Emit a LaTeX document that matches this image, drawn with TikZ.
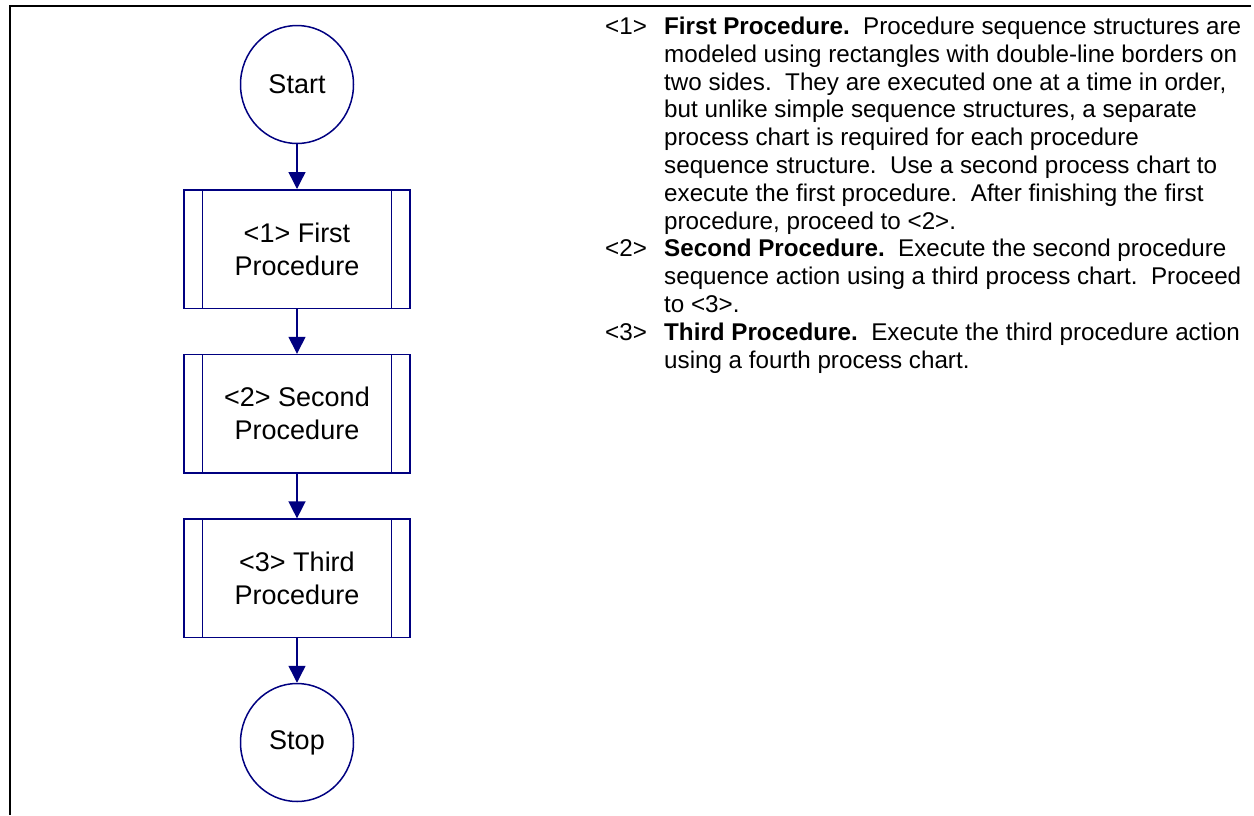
\documentclass[tikz,border=0pt]{standalone}
\usepackage{fontspec}
\setmainfont{Liberation Sans}
\usepackage{tikz}
\usetikzlibrary{shapes.geometric, arrows.meta, positioning}
\definecolor{chartcolor}{HTML}{000080}

\begin{document}
\begin{tikzpicture}[x=1pt, y=-1pt,
    terminal/.style={ellipse, draw=chartcolor, line width=1.5pt, minimum width=113pt, minimum height=118pt, inner sep=0pt, align=center, font=\fontsize{27}{33}\selectfont},
    procedure/.style={rectangle, draw=chartcolor, line width=1.5pt, minimum width=226pt, minimum height=118.5pt, inner sep=0pt, align=center, font=\fontsize{27}{33}\selectfont,
        path picture={
            \draw[chartcolor, line width=1.5pt] ([xshift=18.7pt]path picture bounding box.north west) -- ([xshift=18.7pt]path picture bounding box.south west);
            \draw[chartcolor, line width=1.5pt] ([xshift=-18.7pt]path picture bounding box.north east) -- ([xshift=-18.7pt]path picture bounding box.south east);}},
    arrow/.style={-{Triangle[length=17pt, width=17pt]}, chartcolor, line width=1.4pt}
]
\useasboundingbox (0,0) rectangle (1254,815);

% Frame
\draw[line width=2pt] (1251,5.7) -- (10,5.7) -- (10,815);

% Start and stop
\node[terminal] (start) at (297,84.5) {Start};
\node[terminal] (stop) at (297,742.5) {Stop};

% Three procedures
\node[procedure] (proc1) at (297,249) {<1> First\\Procedure};
\node[procedure] (proc2) at (297,413.8) {<2> Second\\Procedure};
\node[procedure] (proc3) at (297,578.4) {<3> Third\\Procedure};

% Connections
\draw[arrow] (start.south) -- (proc1.north);
\draw[arrow] (proc1.south) -- (proc2.north);
\draw[arrow] (proc2.south) -- (proc3.north);
\draw[arrow] (proc3.south) -- (stop.north);

% Notes
\node[anchor=north west, inner sep=0pt, font=\fontsize{24.2}{27.8}\selectfont] (notes) at (605,14.8) {%
\begin{tabular}{@{}p{59pt}@{}l@{}}
<1> & \textbf{First Procedure.}\ \ Procedure sequence structures are\\
    & modeled using rectangles with double-line borders on\\
    & two sides.\ \ They are executed one at a time in order,\\
    & but unlike simple sequence structures, a separate\\
    & process chart is required for each procedure\\
    & sequence structure.\ \ Use a second process chart to\\
    & execute the first procedure.\ \ After finishing the first\\
    & procedure, proceed to <2>.\\
<2> & \textbf{Second Procedure.}\ \ Execute the second procedure\\
    & sequence action using a third process chart.\ \ Proceed\\
    & to <3>.\\
<3> & \textbf{Third Procedure.}\ \ Execute the third procedure action\\
    & using a fourth process chart.
\end{tabular}};
\end{tikzpicture}
\end{document}
